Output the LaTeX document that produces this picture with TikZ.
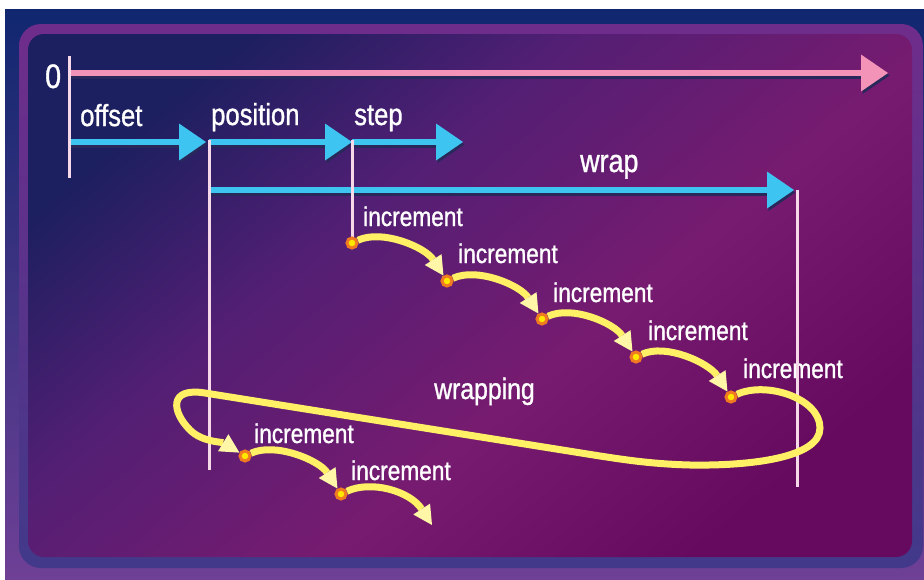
\documentclass[tikz,border=0pt]{standalone}
\usepackage{fontspec}
\setmainfont{Liberation Sans}[FakeStretch=0.84,FakeBold=1]
\usetikzlibrary{arrows.meta}

\definecolor{bgtop}{HTML}{10276F}
\definecolor{bgbot}{HTML}{6E4096}
\definecolor{frametop}{HTML}{6F2D8B}
\definecolor{framebot}{HTML}{42398A}
\definecolor{pnavy}{HTML}{1C1F60}
\definecolor{ppurple}{HTML}{521F74}
\definecolor{pmag}{HTML}{771B70}
\definecolor{pdeep}{HTML}{660A60}
\definecolor{barblue}{HTML}{3EC4F0}
\definecolor{barpink}{HTML}{F393B8}
\definecolor{barshade}{HTML}{29285A}
\definecolor{tickc}{HTML}{F6D8E8}
\definecolor{incline}{HTML}{FFF066}
\definecolor{inchead}{HTML}{FFF6A8}
\definecolor{dotring}{HTML}{F07A22}
\definecolor{dotcore}{HTML}{FFE800}

% panel gradient, navy in the upper left to magenta in the lower right
\pgfdeclarehorizontalshading{panel}{100bp}{color(0bp)=(pnavy); color(25bp)=(pnavy);
  color(40bp)=(ppurple); color(58bp)=(pmag); color(75bp)=(pdeep); color(100bp)=(pdeep)}

\pgfdeclarelayer{front}
\pgfsetlayers{main,front}

\begin{document}
\begin{tikzpicture}[x=1pt,y=-1pt,
  lab/.style={text=white,inner sep=0pt,anchor=base west,font=\fontsize{30.5}{34}\selectfont},
  inclab/.style={lab,font=\fontsize{27}{30}\selectfont},
  bar/.style={line width=6.5pt,-{Triangle[length=27pt,width=37pt,line width=0pt]}},
  barshadow/.style={bar,draw=barshade,transform canvas={shift={(1.5pt,-2.5pt)}}},
  tick/.style={draw=tickc,line width=3pt},
  incdot/.style={circle,fill=dotcore,draw=dotring,line width=3pt,inner sep=0pt,minimum size=10pt},
  incarrow/.style={draw=incline,line width=7pt,
    -{Triangle[length=19pt,width=20pt,line width=0pt,fill=inchead,color=inchead]}}]
  \useasboundingbox (0,0) rectangle (924,579);
  \fill[white] (0,0) rectangle (924,579);

  % backdrop, frame and panel
  \shade[top color=bgtop,bottom color=bgbot] (5,9) rectangle (924,579);
  \shade[top color=frametop,bottom color=framebot,rounded corners=22pt] (19,24) rectangle (923,568);
  \shade[shading=panel,shading angle=-50,rounded corners=16pt] (28,34) rectangle (912,557);

  % ends of the bars
  \coordinate (zero) at (69,73);
  \coordinate (zeroend) at (888,73);
  \coordinate (offbeg) at (69,142);
  \coordinate (offend) at (206,142);
  \coordinate (posbeg) at (209,142);
  \coordinate (posend) at (352,142);
  \coordinate (stepbeg) at (352,142);
  \coordinate (stepend) at (463,142);
  \coordinate (wrapbeg) at (209,190);
  \coordinate (wrapend) at (794,190);

  \draw[barshadow] (zero) -- (zeroend);
  \draw[barshadow] (offbeg) -- (offend);
  \draw[barshadow] (posbeg) -- (posend);
  \draw[barshadow] (stepbeg) -- (stepend);
  \draw[barshadow] (wrapbeg) -- (wrapend);
  \draw[bar,draw=barpink] (zero) -- (zeroend);
  \draw[bar,draw=barblue] (offbeg) -- (offend);
  \draw[bar,draw=barblue] (posbeg) -- (posend);
  \draw[bar,draw=barblue] (stepbeg) -- (stepend);
  \draw[bar,draw=barblue] (wrapbeg) -- (wrapend);

  % labels
  \node[lab,font=\fontsize{34}{38}\selectfont] (labzero) at (45,88) {0};
  \node[lab] (laboffset) at (80,126) {offset};
  \node[lab] (labposition) at (211,125) {position};
  \node[lab] (labstep) at (354,125) {step};
  \node[lab,font=\fontsize{32}{36}\selectfont] (labwrap) at (580,172) {wrap};
  \node[lab,font=\fontsize{29.5}{33}\selectfont] (labwrapping) at (434,399) {wrapping};
  \node[inclab] (inc1) at (363,226) {increment};
  \node[inclab] (inc2) at (458,263) {increment};
  \node[inclab] (inc3) at (553,302) {increment};
  \node[inclab] (inc4) at (648,340) {increment};
  \node[inclab] (inc5) at (743,378) {increment};
  \node[inclab] (inc6) at (254,443) {increment};
  \node[inclab] (inc7) at (351,480) {increment};

  % increment points
  \begin{pgfonlayer}{front}
    \node[incdot] (d1) at (352,243) {};
    \node[incdot] (d2) at (447,281) {};
    \node[incdot] (d3) at (542,319) {};
    \node[incdot] (d4) at (636,357) {};
    \node[incdot] (d5) at (731,397) {};
    \node[incdot] (e1) at (245,456) {};
    \node[incdot] (e2) at (341,494) {};
  \end{pgfonlayer}
  \coordinate (incend) at (432,525);

  % ticks
  \coordinate (t0a) at (69,56);
  \coordinate (t0b) at (69,178);
  \coordinate (tpa) at (209,140);
  \coordinate (tpb) at (209,470);
  \coordinate (tsa) at (352,140);
  \coordinate (twa) at (797,190);
  \coordinate (twb) at (797,487);
  \draw[tick] (t0a) -- (t0b);
  \draw[tick] (tpa) -- (tpb);
  \draw[tick] (tsa) -- (d1);
  \draw[tick] (twa) -- (twb);

  % increments
  \draw[incarrow] (d1) .. controls +(30,-14) and +(-22,-34) .. (d2);
  \draw[incarrow] (d2) .. controls +(30,-14) and +(-22,-34) .. (d3);
  \draw[incarrow] (d3) .. controls +(30,-14) and +(-22,-34) .. (d4);
  \draw[incarrow] (d4) .. controls +(30,-14) and +(-22,-34) .. (d5);
  \draw[incarrow] (e1) .. controls +(30,-14) and +(-22,-34) .. (e2);
  \draw[incarrow] (e2) .. controls +(30,-14) and +(-22,-34) .. (incend);

  % wrapping back round
  \draw[incarrow] (d5) .. controls +(35,-16) and (820,398) .. (820,428)
    .. controls (820,458) and (750,466) .. (690,465)
    .. controls (650,464) and (620,459) .. (600,456) -- (205,393)
    .. controls (168,387) and (172,412) .. (190,430)
    .. controls (202,442) and (222,442) .. (e1);
\end{tikzpicture}
\end{document}
